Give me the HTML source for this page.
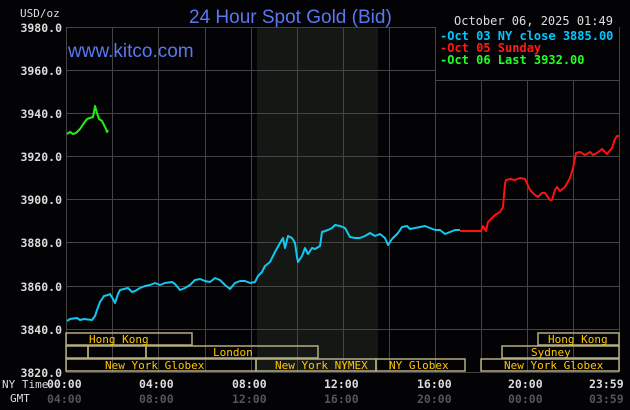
<!DOCTYPE html>
<html><head><meta charset="utf-8"><style>
html,body{margin:0;padding:0;background:#030205;}
svg{display:block}
text{font-family:"DejaVu Sans Mono","Liberation Mono",monospace;font-size:11px}
.lg{font-size:12px;font-weight:bold}
.tk{font-size:11.5px;font-weight:bold}
</style></head><body>
<svg width="630" height="410" viewBox="0 0 630 410" xmlns="http://www.w3.org/2000/svg">
<rect width="630" height="410" fill="#030205"/>
<rect x="257" y="27" width="121" height="345" fill="#151714"/>
<g stroke="#444" stroke-width="1">
<line x1="66.5" y1="27" x2="66.5" y2="372"/>
<line x1="112.5" y1="27" x2="112.5" y2="372"/>
<line x1="158.5" y1="27" x2="158.5" y2="372"/>
<line x1="205.5" y1="27" x2="205.5" y2="372"/>
<line x1="251.5" y1="27" x2="251.5" y2="372"/>
<line x1="297.5" y1="27" x2="297.5" y2="372"/>
<line x1="343.5" y1="27" x2="343.5" y2="372"/>
<line x1="389.5" y1="27" x2="389.5" y2="372"/>
<line x1="435.5" y1="27" x2="435.5" y2="372"/>
<line x1="481.5" y1="27" x2="481.5" y2="372"/>
<line x1="527.5" y1="27" x2="527.5" y2="372"/>
<line x1="573.5" y1="27" x2="573.5" y2="372"/>
<line x1="619.5" y1="27" x2="619.5" y2="372"/>
<line x1="66" y1="27.5" x2="619" y2="27.5"/>
<line x1="66" y1="70.5" x2="619" y2="70.5"/>
<line x1="66" y1="113.5" x2="619" y2="113.5"/>
<line x1="66" y1="156.5" x2="619" y2="156.5"/>
<line x1="66" y1="199.5" x2="619" y2="199.5"/>
<line x1="66" y1="242.5" x2="619" y2="242.5"/>
<line x1="66" y1="286.5" x2="619" y2="286.5"/>
<line x1="66" y1="329.5" x2="619" y2="329.5"/>
<line x1="66" y1="372.5" x2="619" y2="372.5"/>
</g>
<rect x="435" y="27" width="184" height="53" fill="#030205"/>
<line x1="435.5" y1="27" x2="435.5" y2="80" stroke="#444"/>
<line x1="435" y1="80.5" x2="619" y2="80.5" stroke="#444"/>
<text class="lg" x="440" y="40" fill="#00c8ff">-Oct 03 NY close 3885.00</text>
<text class="lg" x="440" y="52" fill="#ff1a1a">-Oct 05 Sunday</text>
<text class="lg" x="440" y="64" fill="#22ff22">-Oct 06 Last 3932.00</text>
<text x="189" y="23" fill="#5a78f0" style="font-family:'Liberation Sans',sans-serif;font-size:19px">24 Hour Spot Gold (Bid)</text>
<text x="68" y="57" fill="#5a78f0" style="font-family:'Liberation Sans',sans-serif;font-size:19px">www.kitco.com</text>
<text class="tk" x="454" y="25" fill="#ddd" style="font-weight:normal;font-size:12px">October 06, 2025 01:49</text>
<text x="20" y="17" fill="#ddd">USD/oz</text>
<g fill="#ddd" text-anchor="end" class="tk">
<text class="tk" x="62" y="32">3980.0</text><text class="tk" x="62" y="75">3960.0</text><text class="tk" x="62" y="118">3940.0</text>
<text class="tk" x="62" y="161">3920.0</text><text class="tk" x="62" y="204">3900.0</text><text class="tk" x="62" y="247">3880.0</text>
<text class="tk" x="62" y="291">3860.0</text><text class="tk" x="62" y="334">3840.0</text><text class="tk" x="62" y="377">3820.0</text>
</g>
<g fill="none" stroke="#b5ad80" stroke-width="1.5">
<rect x="66" y="333" width="126" height="12"/>
<rect x="538" y="333" width="81" height="12"/>
<rect x="66" y="346" width="22" height="12"/>
<rect x="88" y="346" width="58" height="12"/>
<rect x="146" y="346" width="172" height="12"/>
<rect x="502" y="346" width="117" height="12"/>
<rect x="66" y="359" width="190" height="12"/>
<rect x="256" y="359" width="120" height="12"/>
<rect x="376" y="359" width="89" height="12"/>
<rect x="481" y="359" width="138" height="12"/>
</g>
<g fill="#ffc800">
<text x="89" y="343">Hong Kong</text>
<text x="548" y="343">Hong Kong</text>
<text x="213" y="356">London</text>
<text x="531" y="356">Sydney</text>
<text x="105" y="369">New York Globex</text>
<text x="275" y="369">New York NYMEX</text>
<text x="389" y="369">NY Globex</text>
<text x="504" y="369">New York Globex</text>
</g>
<g fill="#ddd">
<text x="2" y="388">NY Time</text><text x="10" y="402">GMT</text>
<text class="tk" x="47" y="388">00:00</text><text class="tk" x="139" y="388">04:00</text><text class="tk" x="232" y="388">08:00</text>
<text class="tk" x="324" y="388">12:00</text><text class="tk" x="417" y="388">16:00</text><text class="tk" x="508" y="388">20:00</text><text class="tk" x="589" y="388">23:59</text>
</g>
<g fill="#555">
<text class="tk" x="47" y="403">04:00</text><text class="tk" x="139" y="403">08:00</text><text class="tk" x="232" y="403">12:00</text>
<text class="tk" x="324" y="403">16:00</text><text class="tk" x="417" y="403">20:00</text><text class="tk" x="508" y="403">00:00</text><text class="tk" x="589" y="403">03:59</text>
</g>
<polyline fill="none" stroke="#10c8f0" stroke-width="2" stroke-linejoin="round" points="67,321 70,319 77,318 80,320 84,319 92,320 95,316 97,310 100,302 104,296 108,295 110,294 113,299 115,303 118,294 120,290 128,288 132,292 135,291 140,288 145,286 150,285 155,283 160,285 165,283 172,282 175,284 180,290 185,288 190,285 195,280 200,279 205,281 210,282 215,278 220,280 225,285 230,289 235,283 240,281 245,281 250,283 255,282 258,276 262,272 265,266 270,262 275,252 280,243 283,238 285,248 288,236 292,238 295,243 297,257 298,262 302,256 305,248 308,254 312,248 315,249 320,246 322,232 328,230 332,228 335,225 340,226 345,228 350,237 355,238 360,238 365,236 370,233 375,236 380,234 385,238 388,245 392,239 398,233 402,227 407,226 410,229 415,228 420,227 425,226 430,228 435,230 440,230 445,234 450,232 455,230 460,230"/>
<polyline fill="none" stroke="#ff1010" stroke-width="2" stroke-linejoin="round" points="460,231 481,231 483,226 486,231 488,222 495,215 500,212 503,207 504,195 505,184 506,180 510,179 515,180 520,178 525,179 530,190 535,195 538,197 542,193 545,193 550,200 552,200 555,190 557,187 560,191 565,187 570,178 573,168 576,153 580,152 585,155 590,152 593,155 597,153 602,149 607,154 612,148 615,139 617,136 619,136"/>
<polyline fill="none" stroke="#22ee11" stroke-width="2" stroke-linejoin="round" points="67,134 70,132 73,134 76,133 80,129 84,123 87,119 90,118 93,117 94,112 95,106 97,113 99,119 102,121 104,125 106,129 107,132 108,130"/>
</svg>
</body></html>
